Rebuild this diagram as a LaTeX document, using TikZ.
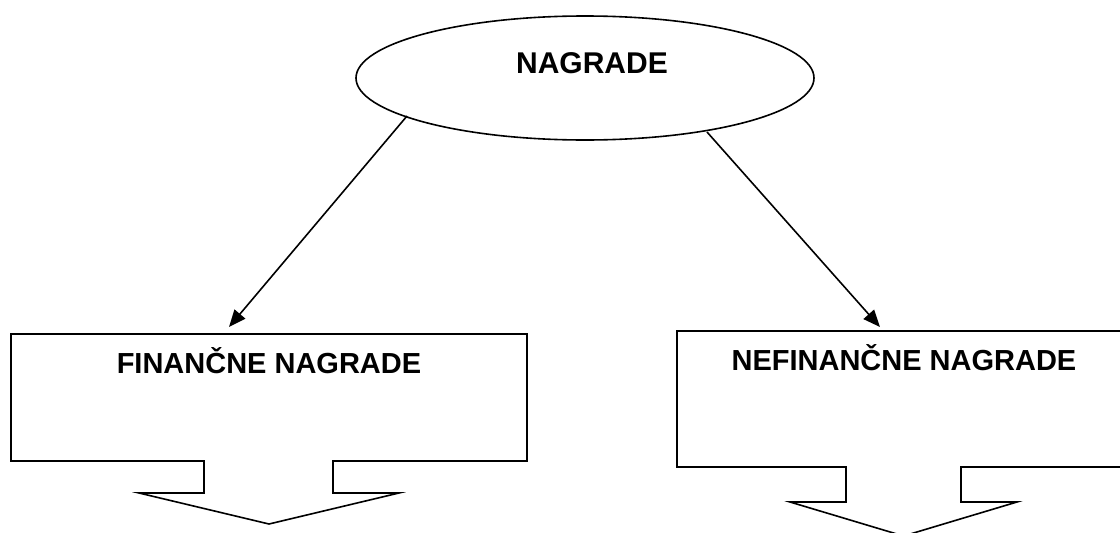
\documentclass[tikz,border=0pt]{standalone}
\usepackage{fontspec}
\setmainfont{Liberation Sans}
\usetikzlibrary{arrows.meta,shapes.geometric}
\tikzset{
  outline/.style={draw=black,line width=1.6pt,line join=miter},
  conn/.style={draw=black,line width=1.6pt,-{Triangle[length=17pt,width=14pt]}},
  bigtext/.style={font=\bfseries\fontsize{29}{34}\selectfont,inner sep=0pt,anchor=base},
}
\begin{document}
\begin{tikzpicture}[x=1pt,y=-1pt]
\useasboundingbox (0,0) rectangle (1120,533);
\clip (0,0) rectangle (1120,533);
\fill[white] (0,0) rectangle (1120,533);
% top ellipse
\node[ellipse,outline,minimum width=458pt,minimum height=124pt,inner sep=0pt] (top) at (585,78) {};
\node[bigtext,font=\bfseries\fontsize{30}{36}\selectfont] (toptext) at (592,73) {NAGRADE};
% left callout
\draw[outline] (11,334) -- (527,334) -- (527,461) -- (333,461) -- (333,493) -- (399,493)
  -- (269,524) -- (139,493) -- (204,493) -- (204,461) -- (11,461) -- cycle;
\node[bigtext] (fin) at (269,373) {FINANČNE NAGRADE};
% right callout
\draw[outline] (677,331) -- (1135,331) -- (1135,467) -- (961,467) -- (961,502) -- (1017,502)
  -- (903.5,536) -- (790,502) -- (846,502) -- (846,467) -- (677,467) -- cycle;
\node[bigtext] (nefin) at (904,370) {NEFINANČNE NAGRADE};
% connectors
\coordinate (ls) at (407,116);
\coordinate (le) at (229,327);
\coordinate (rs) at (707,132);
\coordinate (re) at (880,327);
\draw[conn] (ls) -- (le);
\draw[conn] (rs) -- (re);
\end{tikzpicture}
\end{document}
